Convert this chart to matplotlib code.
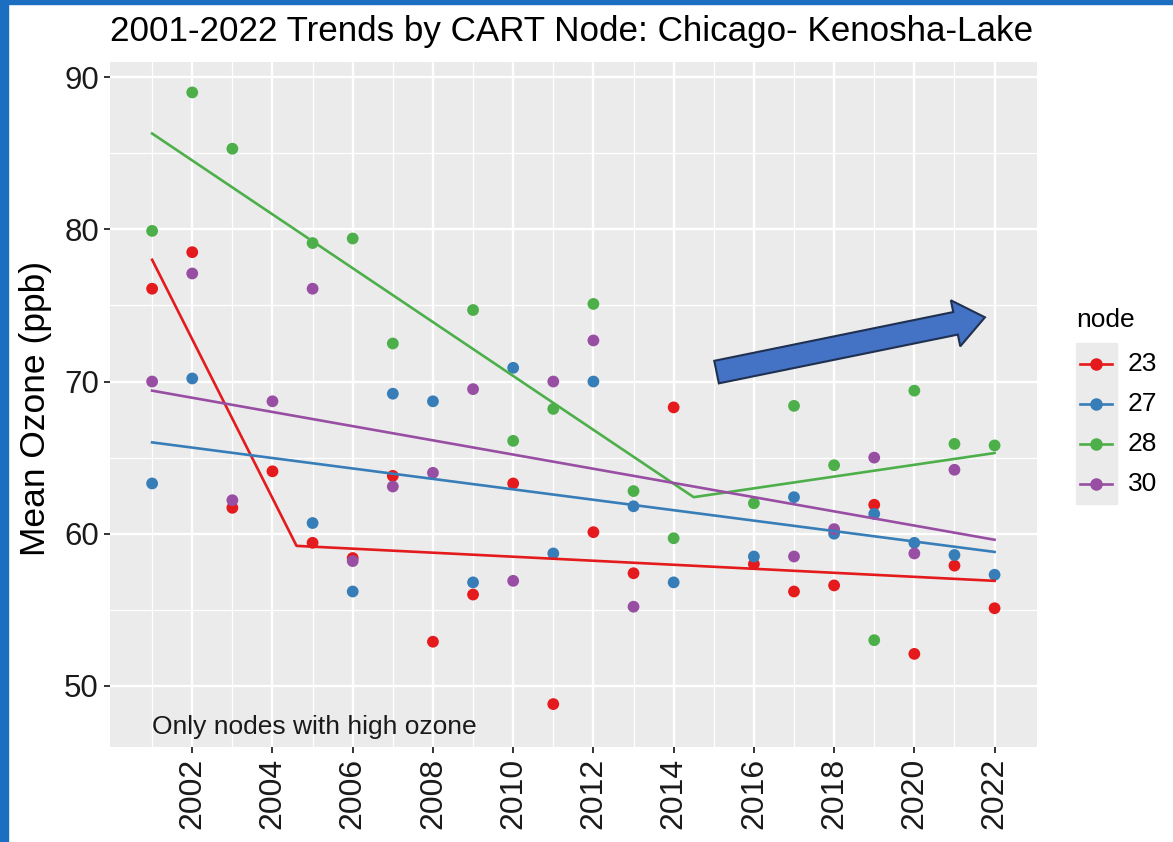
import matplotlib
matplotlib.use("Agg")
import matplotlib.pyplot as plt
from matplotlib.patches import FancyArrow, Rectangle
from matplotlib.lines import Line2D
from matplotlib.transforms import IdentityTransform

plt.rcParams["font.family"] = ["Liberation Sans", "DejaVu Sans"]

# observed annual mean ozone by CART node
nodes = ["23", "27", "28", "30"]
colors = ["#E41A1C", "#377EB8", "#4DAF4A", "#984EA3"]

years_23 = [2001, 2002, 2003, 2004, 2005, 2006, 2007, 2008, 2009, 2010, 2011,
            2012, 2013, 2014, 2016, 2017, 2018, 2019, 2020, 2021, 2022]
ozone_23 = [76.1, 78.5, 61.7, 64.1, 59.4, 58.4, 63.8, 52.9, 56.0, 63.3, 48.8,
            60.1, 57.4, 68.3, 58.0, 56.2, 56.6, 61.9, 52.1, 57.9, 55.1]

years_27 = [2001, 2002, 2005, 2006, 2007, 2008, 2009, 2010, 2011, 2012,
            2013, 2014, 2016, 2017, 2018, 2019, 2020, 2021, 2022]
ozone_27 = [63.3, 70.2, 60.7, 56.2, 69.2, 68.7, 56.8, 70.9, 58.7, 70.0,
            61.8, 56.8, 58.5, 62.4, 60.0, 61.3, 59.4, 58.6, 57.3]

years_28 = [2001, 2002, 2003, 2005, 2006, 2007, 2009, 2010, 2011, 2012,
            2013, 2014, 2016, 2017, 2018, 2019, 2020, 2021, 2022]
ozone_28 = [79.9, 89.0, 85.3, 79.1, 79.4, 72.5, 74.7, 66.1, 68.2, 75.1,
            62.8, 59.7, 62.0, 68.4, 64.5, 53.0, 69.4, 65.9, 65.8]

years_30 = [2001, 2002, 2003, 2004, 2005, 2006, 2007, 2008, 2009, 2010,
            2011, 2012, 2013, 2017, 2018, 2019, 2020, 2021]
ozone_30 = [70.0, 77.1, 62.2, 68.7, 76.1, 58.2, 63.1, 64.0, 69.5, 56.9,
            70.0, 72.7, 55.2, 58.5, 60.3, 65.0, 58.7, 64.2]

# fitted trend lines (segmented where there is a break)
fit_x_23 = [2001, 2004.6, 2022]
fit_y_23 = [78.0, 59.2, 56.9]
fit_x_27 = [2001, 2022]
fit_y_27 = [66.0, 58.8]
fit_x_28 = [2001, 2014.5, 2022]
fit_y_28 = [86.3, 62.4, 65.3]
fit_x_30 = [2001, 2022]
fit_y_30 = [69.4, 59.6]

year_ticks = list(range(2002, 2023, 2))
ozone_ticks = [50, 60, 70, 80, 90]

points = [(years_23, ozone_23), (years_27, ozone_27),
          (years_28, ozone_28), (years_30, ozone_30)]
fits = [(fit_x_23, fit_y_23), (fit_x_27, fit_y_27),
        (fit_x_28, fit_y_28), (fit_x_30, fit_y_30)]

W, H = 1173, 842
fig = plt.figure(figsize=(W / 100, H / 100), dpi=100)


def fx(x):
    return x / W


def fy(y):
    return 1 - y / H


# blue slide border
fig.patches.append(Rectangle((0, 0), fx(8), 1, transform=fig.transFigure,
                             color="#1B6EC0", zorder=0))
fig.patches.append(Rectangle((0, fy(4)), 1, 4 / H, transform=fig.transFigure,
                             color="#1B6EC0", zorder=0))

ax = fig.add_axes([fx(110), fy(746.7), fx(1036.7) - fx(110), fy(62) - fy(746.7)])
ax.set_facecolor("#EBEBEB")
for s in ax.spines.values():
    s.set_visible(False)

ax.set_xlim(1999.95, 2023.05)
ax.set_ylim(46.0, 91.0)
ax.set_xticks(year_ticks)
ax.set_xticks(range(2001, 2023, 2), minor=True)
ax.set_yticks(ozone_ticks)
ax.set_yticks([55, 65, 75, 85], minor=True)
ax.grid(which="major", color="white", linewidth=1.7)
ax.grid(which="minor", color="white", linewidth=0.9)
ax.set_axisbelow(True)
ax.tick_params(axis="x", which="major", labelsize=23, labelrotation=90,
               length=4, width=1.4, color="#333333", labelcolor="#1a1a1a", pad=4)
ax.tick_params(axis="y", which="major", labelsize=22.5,
               length=4, width=1.4, color="#333333", labelcolor="#1a1a1a", pad=4)
ax.tick_params(which="minor", length=0)

for (xs, ys), c in zip(points, colors):
    ax.scatter(xs, ys, s=72, color=c, edgecolors="none", zorder=3)
for (xs, ys), c in zip(fits, colors):
    ax.plot(xs, ys, color=c, linewidth=1.9, zorder=4)

ax.text(2001, 47.3, "Only nodes with high ozone", fontsize=19,
        ha="left", va="center", color="#1a1a1a")

# big blue arrow pointing up-right
tail = ax.transData.transform((2015.07, 70.62))
tip = ax.transData.transform((2021.76, 74.22))
arrow = FancyArrow(tail[0], tail[1], tip[0] - tail[0], tip[1] - tail[1],
                   width=23, head_width=47, head_length=30,
                   length_includes_head=True, transform=IdentityTransform(),
                   facecolor="#4472C4", edgecolor="#1F3050", linewidth=1.5,
                   zorder=6)
fig.patches.append(arrow)

fig.text(fx(110), fy(31), "2001-2022 Trends by CART Node: Chicago- Kenosha-Lake",
         fontsize=25.2, ha="left", va="center", color="black")
fig.text(fx(36), fy(408), "Mean Ozone (ppb)", fontsize=25.5, rotation=90,
         ha="center", va="center", color="black")

# legend
fig.text(fx(1076), fy(320), "node", fontsize=19, ha="left", va="center")
fig.patches.append(Rectangle((fx(1076), fy(504)), fx(1116.7) - fx(1076),
                             fy(343) - fy(504), transform=fig.transFigure,
                             color="#EBEBEB", zorder=1))
for i, (name, c) in enumerate(zip(nodes, colors)):
    cy = fy(363.5 + 40.2 * i)
    fig.lines.append(Line2D([fx(1080), fx(1112)], [cy, cy], color=c,
                            linewidth=1.9, transform=fig.transFigure, zorder=2))
    fig.lines.append(Line2D([fx(1096)], [cy], marker="o", markersize=9,
                            color=c, markeredgewidth=0,
                            transform=fig.transFigure, zorder=3))
    fig.text(fx(1128), cy, name, fontsize=19, ha="left", va="center")

fig.savefig("out.png", dpi=100)
